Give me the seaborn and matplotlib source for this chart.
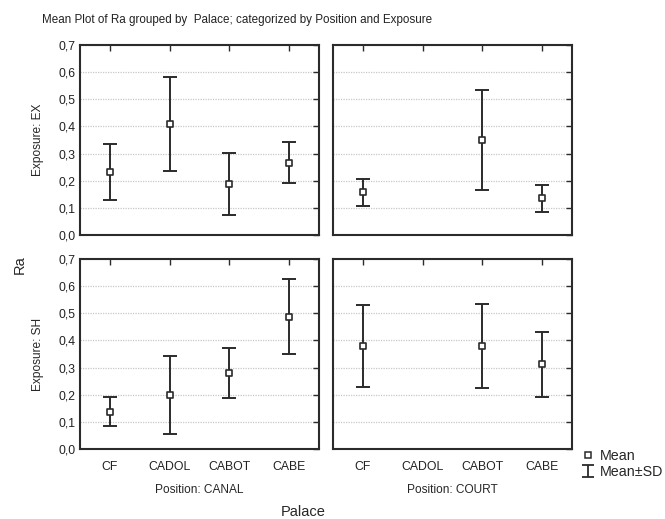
import numpy as np
import pandas as pd
import seaborn as sns
import matplotlib.pyplot as plt
from matplotlib.lines import Line2D
from matplotlib.path import Path
from matplotlib.ticker import FuncFormatter

palaces = ["CF", "CADOL", "CABOT", "CABE"]
positions = ["CANAL", "COURT"]
exposures = ["EX", "SH"]

# mean Ra and SD per palace (nan = no data)
mean_canal_ex = [0.233, 0.410, 0.187, 0.267]
sd_canal_ex = [0.103, 0.173, 0.115, 0.074]
mean_court_ex = [0.157, np.nan, 0.350, 0.135]
sd_court_ex = [0.050, np.nan, 0.185, 0.049]
mean_canal_sh = [0.138, 0.200, 0.280, 0.488]
sd_canal_sh = [0.052, 0.143, 0.091, 0.139]
mean_court_sh = [0.380, np.nan, 0.380, 0.312]
sd_court_sh = [0.152, np.nan, 0.156, 0.120]

frames = []
for pos, exp, m, s in [("CANAL", "EX", mean_canal_ex, sd_canal_ex),
                       ("COURT", "EX", mean_court_ex, sd_court_ex),
                       ("CANAL", "SH", mean_canal_sh, sd_canal_sh),
                       ("COURT", "SH", mean_court_sh, sd_court_sh)]:
    frames.append(pd.DataFrame({"Palace": palaces, "Position": pos,
                                "Exposure": exp, "mean": m, "sd": s}))
df = pd.concat(frames, ignore_index=True)
df["x"] = df["Palace"].map({p: i for i, p in enumerate(palaces)})

sns.set_style("white")
plt.rcParams["font.family"] = ["Liberation Sans", "DejaVu Sans"]

ink = "#2b2b2b"
fig = plt.figure(figsize=(6.65, 5.19), dpi=100)
W, H = 665, 519
boxes = {(0, 0): (80, 45), (0, 1): (333, 45), (1, 0): (80, 259), (1, 1): (333, 259)}

for (r, c), (x0, y0) in boxes.items():
    ax = fig.add_axes([x0 / W, 1 - (y0 + 190) / H, 239 / W, 190 / H])
    sub = df[(df["Exposure"] == exposures[r]) & (df["Position"] == positions[c])].dropna()
    ax.errorbar(sub["x"], sub["mean"], yerr=sub["sd"], fmt="none",
                ecolor=ink, elinewidth=1.4, capsize=4.8, capthick=1.4, zorder=2)
    sns.scatterplot(data=sub, x="x", y="mean", marker="s", s=18, color="white",
                    edgecolor=ink, linewidth=1.2, ax=ax, zorder=3, legend=False)
    ax.set_xlim(-0.5, 3.5)
    ax.set_ylim(0, 0.7)
    ax.set_xticks(range(4))
    ax.set_yticks(np.arange(0, 0.71, 0.1))
    ax.yaxis.grid(True, linestyle=(0, (1, 1)), color="#c8c8c8", linewidth=0.9)
    ax.set_axisbelow(True)
    ax.tick_params(direction="in", length=4, width=1, color=ink, labelsize=8.8,
                   top=True, right=True, labelcolor="#222222")
    for sp in ax.spines.values():
        sp.set_color(ink)
        sp.set_linewidth(1.5)
    ax.set_xlabel("")
    ax.set_ylabel("")
    if r == 0:
        ax.set_xticklabels([])
    else:
        ax.set_xticklabels(palaces)
        ax.tick_params(axis="x", pad=9)
        ax.text(0.5, -0.215, "Position: " + positions[c], transform=ax.transAxes,
                ha="center", va="center", fontsize=8.6)
    if c == 1:
        ax.set_yticklabels([])
    else:
        ax.yaxis.set_major_formatter(FuncFormatter(lambda v, p: f"{v:.1f}".replace(".", ",")))
        ax.text(-0.175, 0.5, "Exposure: " + exposures[r], transform=ax.transAxes,
                rotation=90, ha="center", va="center", fontsize=8.6)

fig.text(42 / W, 1 - 20 / H, "Mean Plot of Ra grouped by  Palace; categorized by Position and Exposure",
         ha="left", va="center", fontsize=8.4, color="#222222")
fig.text(20 / W, 1 - 265 / H, "Ra", rotation=90, ha="center", va="center", fontsize=10.5)
fig.text(303 / W, 1 - 512 / H, "Palace", ha="center", va="center", fontsize=10.5)

ibar = Path([(-1, -1), (1, -1), (0, -1), (0, 1), (-1, 1), (1, 1)],
            [Path.MOVETO, Path.LINETO, Path.MOVETO, Path.LINETO, Path.MOVETO, Path.LINETO])
handles = [Line2D([], [], marker="s", linestyle="none", markersize=5,
                  markerfacecolor="white", markeredgecolor=ink, markeredgewidth=1.1),
           Line2D([], [], marker=ibar, linestyle="none", markersize=8,
                  markerfacecolor="none", markeredgecolor=ink, markeredgewidth=1.3)]
fig.legend(handles, ["Mean", "Mean±SD"], loc="center left",
           bbox_to_anchor=(579 / W, 1 - 464 / H), frameon=False, fontsize=10.3,
           handletextpad=0.25, labelspacing=0.2, handlelength=1.2,
           borderaxespad=0, borderpad=0)

fig.savefig("out.png", dpi=100)
